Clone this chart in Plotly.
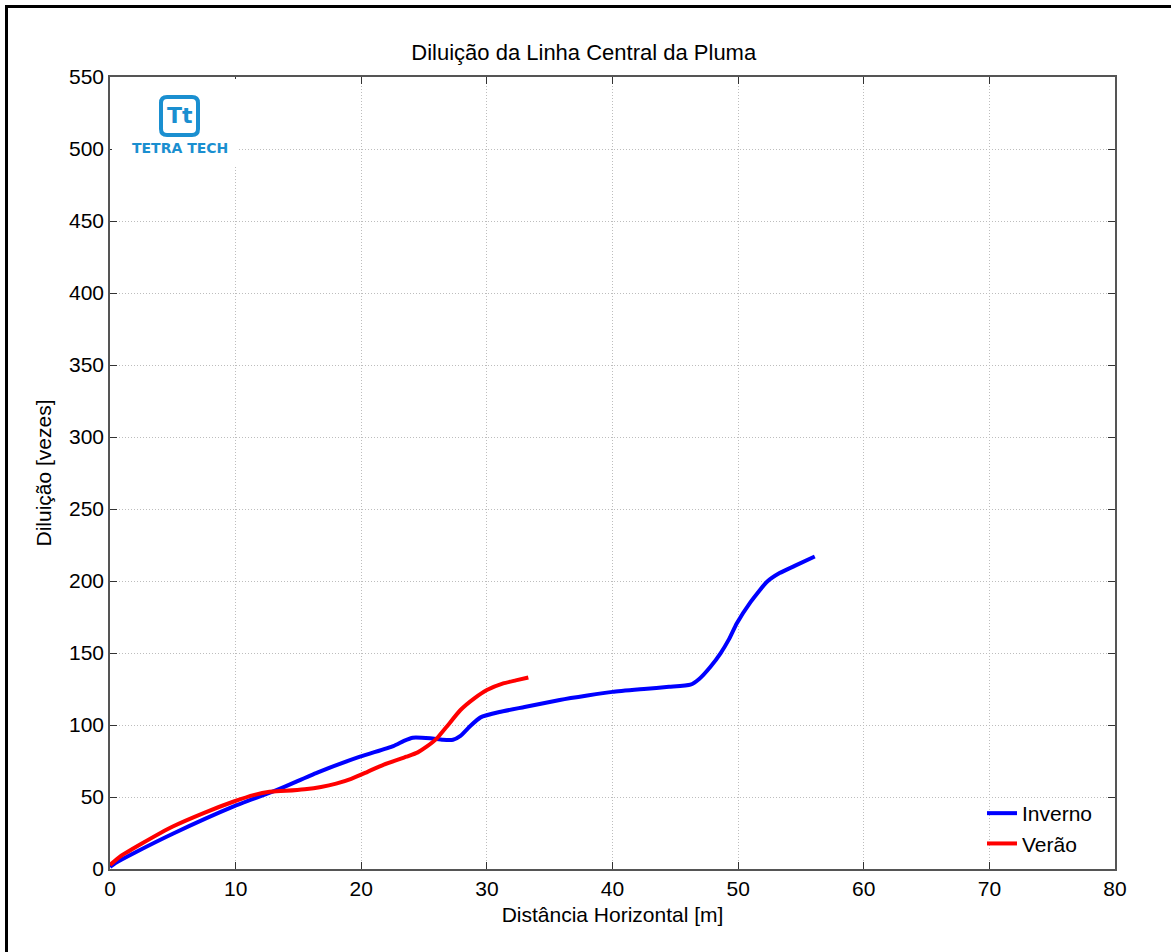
import plotly.graph_objects as go

# Centreline dilution along the plume, winter and summer scenarios
inverno_x = [0.0, 0.5, 2.0, 5.0, 9.8, 13.3, 16.5, 19.9, 22.55, 23.4, 24.1, 25.5, 26.5, 27.3, 27.9, 28.7, 29.5, 31.0, 33.0, 35.8, 38.0, 40.0, 42.5, 44.5, 46.2, 46.9, 47.8, 48.6, 49.3, 49.9, 51.0, 52.3, 53.3, 54.5, 56.1]
inverno_y = [1.5, 4.5, 11.5, 24.5, 43.3, 54.9, 67.0, 78.0, 85.4, 89.0, 91.2, 90.8, 89.8, 89.8, 92.5, 99.5, 105.3, 109.0, 112.5, 117.4, 120.5, 123.0, 125.0, 126.5, 128.0, 132.0, 140.5, 149.8, 160.0, 170.6, 185.5, 199.5, 205.5, 210.5, 217.0]

verao_x = [0.0, 0.8, 2.5, 5.0, 7.5, 9.8, 11.5, 12.7, 14.0, 15.5, 16.8, 18.0, 19.2, 20.5, 21.8, 23.6, 24.5, 25.2, 26.0, 26.8, 27.9, 29.0, 30.0, 31.3, 32.3, 33.3]
verao_y = [2.8, 8.6, 17.5, 29.5, 39.0, 46.7, 51.5, 53.6, 54.3, 55.4, 57.0, 59.3, 62.6, 67.5, 72.5, 78.0, 81.0, 84.9, 90.5, 98.8, 110.4, 118.5, 124.3, 128.9, 131.0, 133.0]

x_ticks = [0, 10, 20, 30, 40, 50, 60, 70, 80]
y_ticks = list(range(0, 551, 50))

W, H = 1171, 952
L, R, T, B = 110, 56, 77, 83
PW, PH = W - L - R, H - T - B


def px(x):
    return (x - L) / PW


def py(y):
    return (H - B - y) / PH


FONT = "Liberation Sans, Arial, sans-serif"
LOGO_BLUE = "#1a8fd0"

fig = go.Figure()
fig.add_trace(go.Scatter(x=inverno_x, y=inverno_y, mode="lines", name="Inverno",
                         line=dict(color="#0000ff", width=4, shape="spline", smoothing=0.5)))
fig.add_trace(go.Scatter(x=verao_x, y=verao_y, mode="lines", name="Verão",
                         line=dict(color="#ff0000", width=4, shape="spline", smoothing=0.5)))

axis_common = dict(
    showline=True, linecolor="#555555", linewidth=1.5, mirror="ticks",
    ticks="inside", ticklen=7, tickcolor="#333333", tickwidth=1.2,
    showgrid=True, gridcolor="#bdbdbd", griddash="1px,2px", gridwidth=1,
    zeroline=False, tickfont=dict(family=FONT, size=21, color="#000000"),
    title_font=dict(family=FONT, size=21, color="#000000"),
)

fig.update_xaxes(range=[0, 80], tickvals=x_ticks, title_text="Distância Horizontal [m]",
                 title_standoff=8, **axis_common)
fig.update_yaxes(range=[0, 550], tickvals=y_ticks, title_text="Diluição [vezes]",
                 title_standoff=12, **axis_common)

shapes = []
# outer figure border
shapes.append(dict(type="rect", xref="paper", yref="paper",
                   x0=px(6.5), x1=px(1185), y0=py(966), y1=py(6.5),
                   line=dict(color="#000000", width=3), layer="above"))
# white backing behind the logo
shapes.append(dict(type="rect", xref="paper", yref="paper",
                   x0=px(112), x1=px(238), y0=py(166), y1=py(79),
                   fillcolor="#ffffff", line=dict(width=0), layer="above"))

# rounded logo square
x0, x1, y0, y1 = px(161), px(198), py(135), py(97)
rx, ry = 6 / PW, 6 / PH
path = (f"M{x0 + rx},{y1} L{x1 - rx},{y1} Q{x1},{y1} {x1},{y1 - ry} "
        f"L{x1},{y0 + ry} Q{x1},{y0} {x1 - rx},{y0} L{x0 + rx},{y0} "
        f"Q{x0},{y0} {x0},{y0 + ry} L{x0},{y1 - ry} Q{x0},{y1} {x0 + rx},{y1} Z")
shapes.append(dict(type="path", xref="paper", yref="paper", path=path,
                   fillcolor="#ffffff", line=dict(color=LOGO_BLUE, width=4), layer="above"))

annotations = [
    dict(text="Tt", xref="paper", yref="paper", x=px(179.5), y=py(116), showarrow=False,
         font=dict(family="DejaVu Sans, sans-serif", size=22, color=LOGO_BLUE, weight="bold"),
         xanchor="center", yanchor="middle"),
    dict(text="TETRA TECH", xref="paper", yref="paper", x=px(180), y=py(148), showarrow=False,
         font=dict(family="DejaVu Sans, sans-serif", size=14, color=LOGO_BLUE, weight="bold"),
         xanchor="center", yanchor="middle"),
]

fig.update_layout(
    width=W, height=H,
    margin=dict(l=L, r=R, t=T, b=B),
    paper_bgcolor="#ffffff", plot_bgcolor="#ffffff",
    title=dict(text="Diluição da Linha Central da Pluma", x=px(611), xanchor="center",
               y=1 - 52 / H, yanchor="middle", font=dict(family=FONT, size=22, color="#000000")),
    legend=dict(x=px(982), y=py(793), xanchor="left", yanchor="top",
                bgcolor="rgba(255,255,255,0)", borderwidth=0,
                font=dict(family=FONT, size=21, color="#000000"), tracegroupgap=0),
    shapes=shapes, annotations=annotations,
    showlegend=True,
)

fig.write_html("out.html")
